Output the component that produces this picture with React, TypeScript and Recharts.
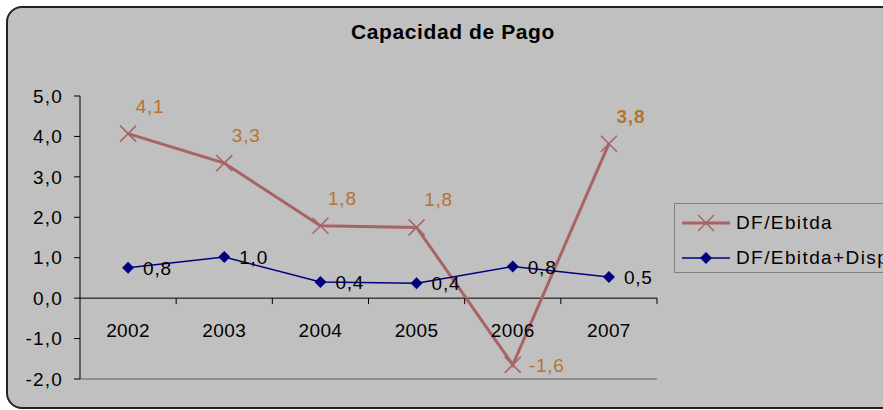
import React from 'react';
import { LineChart, Line, XAxis, YAxis, ReferenceLine, LabelList } from 'recharts';

// Chart values
const years = ['2002', '2003', '2004', '2005', '2006', '2007'];
const dfEbitda = [4.07, 3.34, 1.79, 1.75, -1.65, 3.82];
const dfEbitdaDisp = [0.75, 1.02, 0.4, 0.37, 0.78, 0.52];
const yTicks = [-2, -1, 0, 1, 2, 3, 4, 5];
const seriesNames = ['DF/Ebitda', 'DF/Ebitda+Disp'];
const chartTitle = 'Capacidad de Pago';

const W = 883;
const H = 410;
const PLOT_LEFT = 80;
const PLOT_RIGHT = 657;
const PLOT_TOP = 96;
const PLOT_BOTTOM = 379;
const PLOT_W = PLOT_RIGHT - PLOT_LEFT;
const PLOT_H = PLOT_BOTTOM - PLOT_TOP;
const Y_MIN = -2;
const Y_MAX = 5;

const FONT = '"Liberation Sans", Arial, sans-serif';
const BROWN = '#A86464';
const LABEL_BROWN = '#B8732F';
const NAVY = '#000080';

const fmt = (v: number) => v.toFixed(1).replace('.', ',');

const data = years.map((year, i) => ({
  year,
  ebitda: dfEbitda[i],
  disp: dfEbitdaDisp[i],
}));

// year labels sit under the zero line, with tick marks between categories
const YearTick = (props: any) => {
  const { x, payload } = props;
  const zeroY = PLOT_TOP + (PLOT_H * Y_MAX) / (Y_MAX - Y_MIN);
  const half = PLOT_W / years.length / 2;
  return (
    <g>
      <line x1={x + half} y1={zeroY} x2={x + half} y2={zeroY + 6} stroke="#000" strokeWidth={1} />
      <text x={x} y={zeroY + 39} textAnchor="middle" fill="#000" fontSize={19} letterSpacing={0.4} fontFamily={FONT}>
        {payload.value}
      </text>
    </g>
  );
};

const CrossDot = (props: any) => {
  const { cx, cy } = props;
  if (cx == null || cy == null) return null;
  const r = 8;
  return (
    <g>
      <line x1={cx - r} y1={cy - r} x2={cx + r} y2={cy + r} stroke={BROWN} strokeWidth={1.5} />
      <line x1={cx - r} y1={cy + r} x2={cx + r} y2={cy - r} stroke={BROWN} strokeWidth={1.5} />
    </g>
  );
};

const DiamondDot = (props: any) => {
  const { cx, cy } = props;
  if (cx == null || cy == null) return null;
  const r = 6;
  return <polygon points={`${cx},${cy - r} ${cx + r},${cy} ${cx},${cy + r} ${cx - r},${cy}`} fill={NAVY} />;
};

const BrownLabel = (props: any) => {
  const { x, y, value, index } = props;
  const neg = value < 0;
  return (
    <text
      x={neg ? x + 16 : x + 22}
      y={neg ? y + 7 : y - 21}
      textAnchor={neg ? 'start' : 'middle'}
      fill={LABEL_BROWN}
      fontSize={19}
      letterSpacing={0.8}
      fontFamily={FONT}
      fontWeight={index === dfEbitda.length - 1 ? 'bold' : 'normal'}
    >
      {fmt(value)}
    </text>
  );
};

const NavyLabel = (props: any) => {
  const { x, y, value } = props;
  return (
    <text x={x + 15} y={y + 7} textAnchor="start" fill="#000" fontSize={19} letterSpacing={0.8} fontFamily={FONT}>
      {fmt(value)}
    </text>
  );
};

const LegendBox: React.FC = () => (
  <div
    style={{
      position: 'absolute',
      left: 674,
      top: 203,
      width: 240,
      height: 68,
      border: '1px solid #808080',
      background: '#c0c0c0',
      fontFamily: FONT,
      fontSize: 19,
      letterSpacing: 1.4,
    }}
  >
    {seriesNames.map((name, i) => (
      <div key={name} style={{ position: 'absolute', left: 7, top: i === 0 ? 7 : 42, height: 24, display: 'flex', alignItems: 'center' }}>
        <svg width={50} height={24}>
          <line x1={0} y1={12} x2={48} y2={12} stroke={i === 0 ? BROWN : NAVY} strokeWidth={i === 0 ? 3 : 1.5} />
          {i === 0 ? (
            <CrossDot cx={24} cy={12} />
          ) : (
            <DiamondDot cx={24} cy={12} />
          )}
        </svg>
        <span style={{ marginLeft: 4, whiteSpace: 'nowrap' }}>{name}</span>
      </div>
    ))}
  </div>
);

const App: React.FC = () => {
  return (
    <div style={{ position: 'absolute', left: 0, top: 0, width: W, height: H, background: '#fff', overflow: 'hidden' }}>
      <div
        style={{
          position: 'absolute',
          left: 6,
          top: 6,
          width: 920,
          height: 403,
          boxSizing: 'border-box',
          border: '2px solid #222',
          borderRadius: 16,
          background: '#c0c0c0',
        }}
      />
      <div
        style={{
          position: 'absolute',
          left: 253,
          top: 21,
          width: 400,
          textAlign: 'center',
          fontFamily: FONT,
          fontSize: 21,
          lineHeight: '22px',
          fontWeight: 'bold',
          letterSpacing: 0.6,
          color: '#000',
        }}
      >
        {chartTitle}
      </div>
      <div style={{ position: 'absolute', left: 0, top: 0 }}>
        <LineChart
          width={W}
          height={H}
          data={data}
          margin={{ top: PLOT_TOP, right: W - PLOT_RIGHT, bottom: 0, left: 0 }}
        >
          <XAxis
            dataKey="year"
            scale="band"
            height={H - PLOT_BOTTOM}
            axisLine={{ stroke: '#808080', strokeWidth: 1.5 }}
            tickLine={false}
            tickSize={0}
            tickMargin={0}
            interval={0}
            tick={<YearTick />}
          />
          <XAxis xAxisId="top" orientation="top" dataKey="year" scale="band" height={0} tick={false} tickLine={false} axisLine={{ stroke: '#808080', strokeWidth: 1.5 }} />
          <YAxis
            domain={[Y_MIN, Y_MAX]}
            ticks={yTicks}
            width={PLOT_LEFT}
            interval={0}
            axisLine={{ stroke: '#000', strokeWidth: 1 }}
            tickLine={{ stroke: '#000' }}
            tickSize={6}
            tickMargin={11}
            tickFormatter={fmt}
            tick={{ fill: '#000', fontSize: 19, fontFamily: FONT, letterSpacing: 1.2 }}
          />
          <YAxis yAxisId="right" orientation="right" domain={[Y_MIN, Y_MAX]} width={0} tick={false} tickLine={false} axisLine={{ stroke: '#808080', strokeWidth: 1.5 }} />
          <ReferenceLine y={0} stroke="#000" strokeWidth={1} />
          <Line
            dataKey="ebitda"
            name={seriesNames[0]}
            stroke={BROWN}
            strokeWidth={3}
            dot={<CrossDot />}
            activeDot={false}
            isAnimationActive={false}
          >
            <LabelList dataKey="ebitda" content={<BrownLabel />} />
          </Line>
          <Line
            dataKey="disp"
            name={seriesNames[1]}
            stroke={NAVY}
            strokeWidth={1.5}
            dot={<DiamondDot />}
            activeDot={false}
            isAnimationActive={false}
          >
            <LabelList dataKey="disp" content={<NavyLabel />} />
          </Line>
        </LineChart>
      </div>
      <LegendBox />
    </div>
  );
};

export default App;
